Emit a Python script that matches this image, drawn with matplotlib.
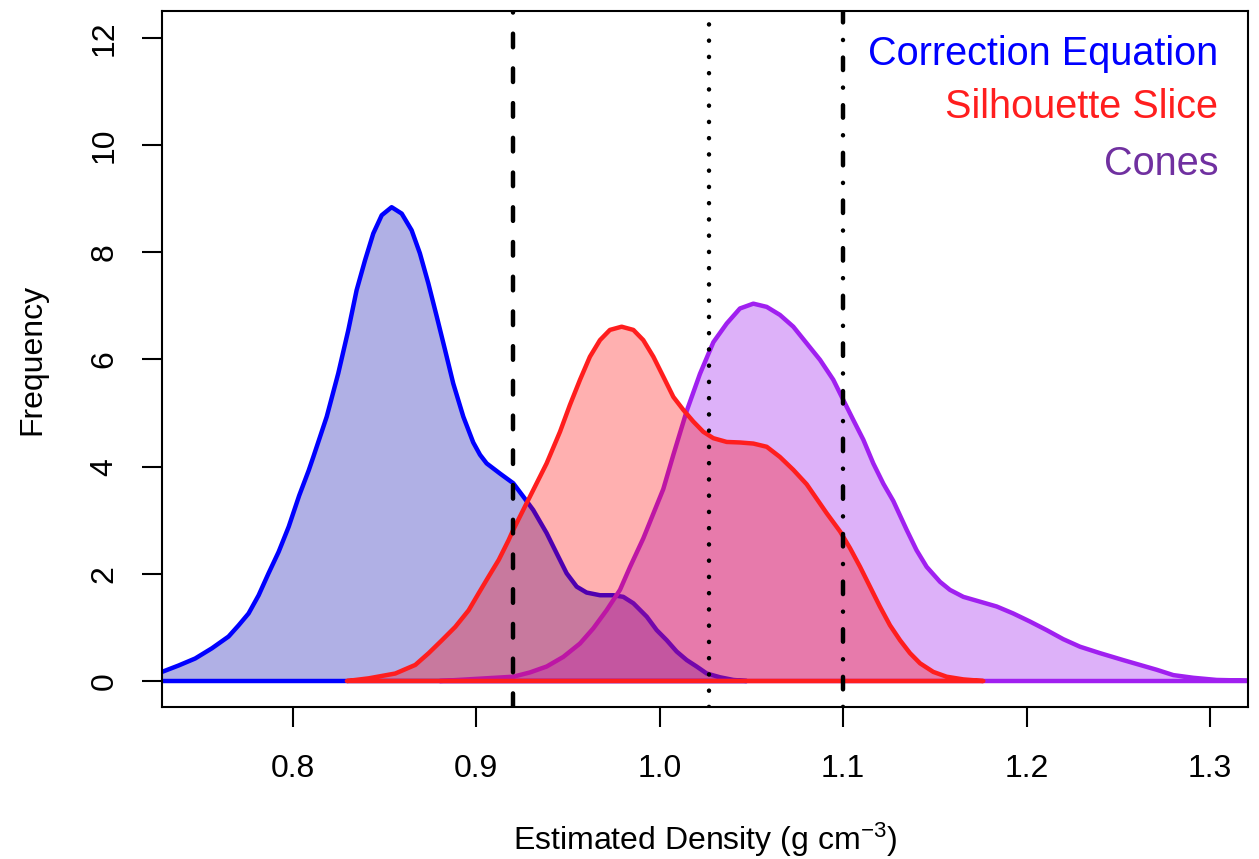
# Density estimates of the three methods, with reference lines

import matplotlib
matplotlib.use('Agg')
import matplotlib.pyplot as plt

plt.rcParams['font.family'] = ['Liberation Sans', 'DejaVu Sans']
plt.rcParams['mathtext.fontset'] = 'custom'
plt.rcParams['mathtext.rm'] = 'Liberation Sans'
plt.rcParams['mathtext.it'] = 'Liberation Sans:italic'
plt.rcParams['lines.scale_dashes'] = False

# colors
col_blue = '#0000FF'
col_red = '#FF1E1E'
col_purple = '#A020F0'

# Correction Equation density
corr_x = [0.720, 0.7286, 0.7377, 0.7467, 0.7558, 0.7649, 0.7704, 0.7758, 0.7813, 0.7867,
          0.7922, 0.7977, 0.8034, 0.8086, 0.8111, 0.8184, 0.8247, 0.8302, 0.8347, 0.8393,
          0.8438, 0.8484, 0.8538, 0.8593, 0.8647, 0.8692, 0.8738, 0.8784, 0.8829, 0.8874,
          0.8929, 0.8983, 0.902, 0.9056, 0.9129, 0.9201, 0.9256, 0.931, 0.9383, 0.9438,
          0.9492, 0.9547, 0.9601, 0.9674, 0.9747, 0.9801, 0.9856, 0.9929, 0.9983, 1.0038,
          1.0092, 1.0147, 1.0201, 1.0256, 1.0328, 1.0401, 1.0474, 0.720]
corr_y = [0.12, 0.17, 0.29, 0.42, 0.61, 0.83, 1.04, 1.26, 1.60, 2.01,
          2.41, 2.88, 3.46, 3.93, 4.18, 4.93, 5.74, 6.55, 7.29, 7.85,
          8.35, 8.69, 8.84, 8.72, 8.41, 7.98, 7.42, 6.80, 6.18, 5.55,
          4.93, 4.45, 4.22, 4.06, 3.87, 3.69, 3.44, 3.19, 2.76, 2.38,
          2.01, 1.76, 1.65, 1.60, 1.60, 1.57, 1.45, 1.20, 0.95, 0.76,
          0.55, 0.39, 0.27, 0.14, 0.07, 0.02, 0.0, 0.0]

# Silhouette Slice density
sil_x = [0.8294, 0.8413, 0.8558, 0.8667, 0.874, 0.8812, 0.8885, 0.8958, 0.9013, 0.9067,
         0.9122, 0.9176, 0.9201, 0.9292, 0.9383, 0.9456, 0.951, 0.9565, 0.9619, 0.9674,
         0.9728, 0.9792, 0.9856, 0.991, 0.9965, 1.0019, 1.0074, 1.0128, 1.0183, 1.0237,
         1.0292, 1.0365, 1.0437, 1.051, 1.0583, 1.0655, 1.0728, 1.0801, 1.091, 1.0983,
         1.1037, 1.1092, 1.1146, 1.12, 1.1255, 1.131, 1.1364, 1.1419, 1.1491, 1.1564,
         1.1655, 1.1764]
sil_y = [0.0, 0.05, 0.14, 0.30, 0.52, 0.76, 1.01, 1.32, 1.64, 1.95,
         2.26, 2.63, 2.82, 3.44, 4.06, 4.65, 5.15, 5.62, 6.05, 6.36,
         6.55, 6.61, 6.55, 6.36, 6.05, 5.68, 5.30, 5.06, 4.84, 4.65,
         4.53, 4.46, 4.45, 4.43, 4.37, 4.18, 3.94, 3.67, 3.13, 2.79,
         2.48, 2.13, 1.76, 1.39, 1.04, 0.76, 0.52, 0.33, 0.17, 0.08,
         0.03, 0.0]

# Cones density
cone_x = [0.88, 0.9201, 0.9292, 0.9383, 0.9474, 0.9565, 0.9637, 0.971, 0.9783, 0.9838,
          0.991, 1.0019, 1.0074, 1.0147, 1.0219, 1.0292, 1.0365, 1.0437, 1.051, 1.0583,
          1.0655, 1.0728, 1.0801, 1.0874, 1.0946, 1.1001, 1.1055, 1.111, 1.1164, 1.1219,
          1.1273, 1.1346, 1.14, 1.1455, 1.1528, 1.1582, 1.1655, 1.1746, 1.1837, 1.1927,
          1.2018, 1.2109, 1.22, 1.2291, 1.24, 1.2527, 1.2618, 1.2709, 1.28, 1.2909,
          1.3036, 1.33]
cone_y = [0.0, 0.08, 0.16, 0.27, 0.45, 0.70, 0.98, 1.32, 1.70, 2.13,
          2.66, 3.58, 4.22, 5.04, 5.73, 6.32, 6.67, 6.95, 7.04, 6.98,
          6.83, 6.61, 6.30, 5.99, 5.62, 5.24, 4.87, 4.50, 4.06, 3.68,
          3.36, 2.82, 2.44, 2.13, 1.85, 1.70, 1.57, 1.48, 1.39, 1.26,
          1.11, 0.95, 0.78, 0.64, 0.52, 0.39, 0.30, 0.21, 0.11, 0.06,
          0.02, 0.0]

# reference lines
ref_dashed = 0.92
ref_dotted = 1.027
ref_dotdash = 1.10

labels = ['Correction Equation', 'Silhouette Slice', 'Cones']
label_cols = [col_blue, col_red, '#7030A0']

x_ticks = [0.8, 0.9, 1.0, 1.1, 1.2, 1.3]
y_ticks = [0, 2, 4, 6, 8, 10, 12]


fig = plt.figure(figsize=(12.59, 8.59), dpi=100)
ax = fig.add_axes([0.12867, 0.17695, 0.86259, 0.81025])

# polygons: blue, then purple, then red on top
ax.fill(corr_x, corr_y, facecolor=(0.063, 0.063, 0.69, 0.33), edgecolor=col_blue, linewidth=3.2, joinstyle='round')
ax.fill(cone_x, cone_y, facecolor=(0.627, 0.125, 0.941, 0.35), edgecolor=col_purple, linewidth=3.2, joinstyle='round')
ax.fill(sil_x, sil_y, facecolor=(1.0, 0.0, 0.0, 0.31), edgecolor=col_red, linewidth=3.2, joinstyle='round')

ax.axvline(ref_dashed, color='black', linewidth=3.2, dashes=(9.8, 15.2), dash_capstyle='round')
ax.axvline(ref_dotted, color='black', linewidth=3.2, dashes=(0.1, 11.6), dash_capstyle='round')
ax.axvline(ref_dotdash, color='black', linewidth=3.2, dashes=(0.1, 12.6, 9.0, 12.6), dash_capstyle='round')

ax.set_xlim(0.7286, 1.3207)
ax.set_ylim(-0.485, 12.5)
ax.set_xticks(x_ticks)
ax.set_xticklabels([f'{v:.1f}' for v in x_ticks])
ax.set_yticks(y_ticks)
ax.tick_params(axis='both', length=14.5, width=1.5, labelsize=23, direction='out')
ax.tick_params(axis='x', pad=19)
ax.tick_params(axis='y', pad=16, labelrotation=90)
for lab in ax.get_yticklabels():
    lab.set_verticalalignment('center')
for sp in ax.spines.values():
    sp.set_linewidth(1.5)

ax.set_xlabel(r'Estimated Density (g cm$^{-3}$)', fontsize=23)
ax.xaxis.set_label_coords(0.5, -0.163)
ax.set_ylabel('Frequency', fontsize=23)
ax.yaxis.set_label_coords(-0.106, 0.5)

legend_y = [0.9224, 0.8463, 0.7644]
for lab, c, yy in zip(labels, label_cols, legend_y):
    ax.text(0.9724, yy, lab, color=c, fontsize=28.5, ha='right', va='baseline', transform=ax.transAxes)

fig.savefig('out.png', dpi=100)
